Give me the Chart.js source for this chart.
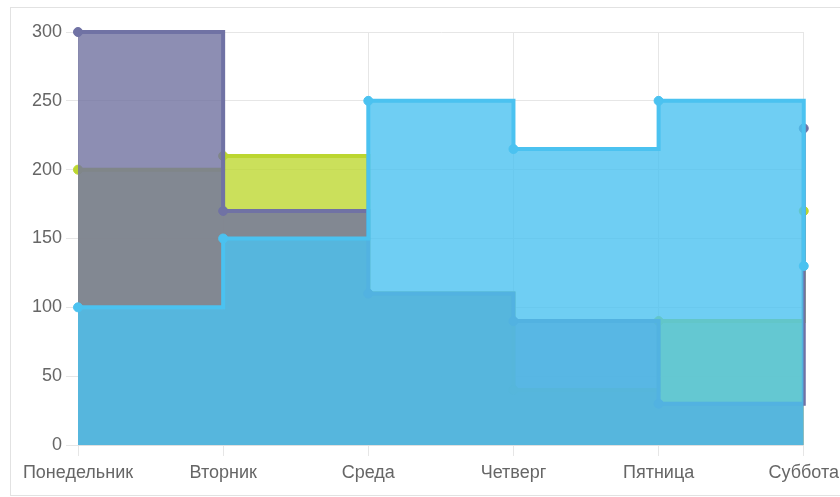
<!DOCTYPE html>
<html>
<head>
<meta charset="utf-8">
<title>Stepped area chart</title>
<script src="https://cdn.jsdelivr.net/npm/chart.js@4/dist/chart.umd.min.js"></script>
<style>
    html, body {
        margin: 0;
        padding: 0;
        background: #fff;
        overflow: hidden;
    }

    /* card around the chart */
    .panel {
        position: absolute;
        left: 10px;
        top: 7px;
        width: 840px;
        height: 487px;
        border: 1px solid #e2e2e2;
        background: #fff;
    }

    .chart-box {
        position: absolute;
        left: 0;
        top: 0;
        width: 834px;
        height: 487px;
    }
</style>
</head>
<body>

<div class="panel">
    <div class="chart-box">
        <canvas id="weekChart"></canvas>
    </div>
</div>

<script>
/* ==========================================
        Week data
========================================== */

const days = ["Понедельник", "Вторник", "Среда", "Четверг", "Пятница", "Суббота"];

const blueValues   = [100, 150, 250, 215, 250, 130];
const purpleValues = [300, 170, 110, 90, 30, 230];
const limeValues   = [200, 210, 110, 40, 90, 170];

const yTicks = [0, 50, 100, 150, 200, 250, 300];

/* ==========================================
        Chart
========================================== */

document.addEventListener("DOMContentLoaded", () => {

    const ctx = document.getElementById("weekChart");

    const series = (data, line, fill) => ({
        data: data,
        stepped: true,
        fill: "origin",
        clip: false,
        borderColor: line,
        backgroundColor: fill,
        borderWidth: 4,
        pointRadius: 4.5,
        pointBorderWidth: 1,
        pointBackgroundColor: line,
        pointBorderColor: line,
        tension: 0
    });

    new Chart(ctx, {

        type: "line",

        data: {
            labels: days,
            datasets: [
                series(blueValues, "#4bc2f0", "rgba(75,194,240,0.8)"),
                series(purpleValues, "#7072a4", "rgba(112,114,160,0.8)"),
                series(limeValues, "#bcd630", "rgba(190,216,50,0.8)")
            ]
        },

        options: {

            responsive: true,
            maintainAspectRatio: false,
            animation: false,

            layout: {
                padding: { top: 24, right: 37, bottom: 11, left: 0 }
            },

            plugins: {
                legend: { display: false },
                tooltip: { enabled: false }
            },

            scales: {

                x: {
                    grid: {
                        color: "#e6e6e6",
                        tickLength: 11
                    },
                    border: { color: "#e0e0e0" },
                    ticks: {
                        color: "#666",
                        padding: 6,
                        maxRotation: 0,
                        font: { size: 18, family: "Arial, 'Liberation Sans', sans-serif" }
                    },
                    afterFit: scale => { scale.height = 39; }
                },

                y: {
                    min: yTicks[0],
                    max: yTicks[yTicks.length - 1],
                    grid: {
                        color: "#e6e6e6",
                        tickLength: 12
                    },
                    border: { color: "#e0e0e0" },
                    afterBuildTicks: scale => {
                        scale.ticks = yTicks.map(v => ({ value: v }));
                    },
                    ticks: {
                        color: "#666",
                        padding: 4,
                        font: { size: 18, family: "Arial, 'Liberation Sans', sans-serif" }
                    },
                    afterFit: scale => { scale.width = 67; }
                }

            }

        }

    });

});
</script>

</body>
</html>
